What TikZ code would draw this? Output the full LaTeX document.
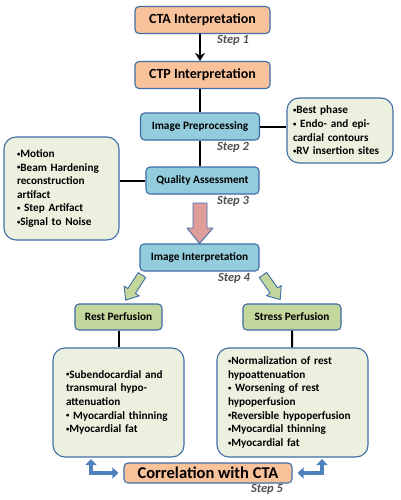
\documentclass[tikz,border=0pt]{standalone}
\usepackage{fontspec}
\setmainfont{Carlito}
\usetikzlibrary{arrows.meta,calc}

\definecolor{boxline}{HTML}{3F6DA8}
\definecolor{ctafill}{HTML}{FAC29A}
\definecolor{stepfill}{HTML}{93CDDD}
\definecolor{perffill}{HTML}{C3D69B}
\definecolor{notefill}{HTML}{EBF1DE}
\definecolor{pinkfill}{HTML}{E09C9A}
\definecolor{arrowblue}{HTML}{4F81BD}
\definecolor{steptext}{HTML}{505050}

\newcommand{\dotmark}{\raisebox{0.25ex}{\scalebox{0.6}{•}}}

\begin{document}
\begin{tikzpicture}[
    x=1pt, y=-1pt,
    % --- Styles ---
    base box/.style={draw=boxline, line width=1.1pt, anchor=center, inner sep=0pt},
    % Orange boxes for the CTA / CTP steps
    cta box/.style={base box, fill=ctafill, rounded corners=4pt, minimum width=135pt,
        minimum height=27pt, font=\bfseries\fontsize{14}{16}\selectfont},
    % Blue boxes for the processing steps
    stage box/.style={base box, fill=stepfill, rounded corners=4pt, minimum height=27pt,
        font=\bfseries\fontsize{11.3}{13}\selectfont},
    perf box/.style={base box, fill=perffill, rounded corners=4pt, minimum height=26pt,
        font=\bfseries\fontsize{11.3}{13}\selectfont},
    % Pale boxes with the bullet lists
    note box/.style={base box, fill=notefill, rounded corners=12pt, align=left,
        font=\bfseries\fontsize{11.2}{13.6}\selectfont},
    step label/.style={font=\bfseries\itshape\fontsize{12.5}{14}\selectfont, text=steptext},
    link/.style={draw=black, line width=2pt},
    block arrow/.style={draw=boxline, line width=0.9pt, line join=round},
    corr arrow/.style={draw=arrowblue, line width=3.5pt,
        {Triangle[width=11pt,length=6pt]}-{Triangle[width=11pt,length=6pt]}}
]
\useasboundingbox (0,0) rectangle (401,500);

%================ MAIN COLUMN ================
\node[cta box] (cta) at (202.5,20) {CTA Interpretation};
\node[cta box] (ctp) at (202.5,75) {CTP Interpretation};
\node[stage box, minimum width=119pt] (prep) at (200,126.5) {Image Preprocessing};
\node[stage box, minimum width=113pt] (qa) at (202.5,180.5) {Quality Assessment};
\node[stage box, minimum width=119pt] (interp) at (199.5,257.5) {Image Interpretation};

%================ SIDE NOTES ================
\node[note box, text width=94pt, inner xsep=6pt, minimum height=65pt] (prepnote) at (340,130.5)
    {\dotmark Best phase\\ \dotmark\ Endo- and epi-\\ cardial contours\\ \dotmark RV insertion sites};
\node[note box, text width=89pt, inner xsep=13pt, minimum height=103pt] (qanote) at (61.5,188.5)
    {\dotmark Motion\\ \dotmark Beam Hardening\\ reconstruction\\ artifact\\ \dotmark\ Step Artifact\\ \dotmark Signal to Noise};

%================ PERFUSION ================
\node[perf box, minimum width=87pt] (rest) at (118.5,317) {Rest Perfusion};
\node[perf box, minimum width=98pt] (stress) at (292,317) {Stress Perfusion};
\node[note box, text width=105pt, inner xsep=13pt, minimum height=109pt] (restnote) at (118.5,402.5)
    {\dotmark Subendocardial and\\ transmural hypo-\\ attenuation\\ \dotmark\ Myocardial thinning\\ \dotmark Myocardial fat};
\node[note box, text width=129pt, inner xsep=11pt, minimum height=109pt] (stressnote) at (292.5,402.5)
    {\dotmark Normalization of rest\\ hypoattenuation\\ \dotmark\ Worsening of rest\\ hypoperfusion\\ \dotmark Reversible hypoperfusion\\ \dotmark Myocardial thinning\\ \dotmark Myocardial fat};

\node[cta box, minimum width=168pt, minimum height=20pt, font=\bfseries\fontsize{16.5}{18}\selectfont] (corr) at (208,473) {Correlation with CTA};

% Step labels
\foreach \sx/\sy/\sn in {233/40/1, 233/147/2, 233/201/3, 234/278/4, 267/489/5}
    \node[step label] (step\sn) at (\sx,\sy) {Step \sn};

%================ CONNECTORS ================
\draw[link, -{Stealth[length=8pt,width=10pt]}] (cta.south -| prep) -- (ctp.north -| prep);
\draw[link] (ctp.south -| prep) -- (prep);
\draw[link] (prep) -- (qa.north -| prep);
\draw[link] (prep.east) -- (prep.east -| prepnote.west);
\draw[link] (qanote.east |- qa) -- (qa);
\draw[link] (rest) -- (restnote);
\draw[link] (stress) -- (stressnote);

% Big pink arrow between quality check and interpretation
\draw[block arrow, fill=pinkfill] (193,203) -- (207,203) -- (207,228) -- (213,228)
    -- (interp.north) -- (187,228) -- (193,228) -- cycle;

% Green arrows to rest / stress
\foreach \tx/\ty/\ang in {142/275/237, 263/275/-55} {
    \begin{scope}[shift={(\tx,\ty)}, rotate=\ang]
        \draw[block arrow, fill=perffill] (0,-4.5) -- (19,-4.5) -- (19,-9) -- (30,0)
            -- (19,9) -- (19,4.5) -- (0,4.5) -- cycle;
    \end{scope}
}

% Bent arrows back to the perfusion boxes
\coordinate (restfoot) at (91,459);
\coordinate (stressfoot) at (322,459);
\draw[corr arrow] (restfoot) |- ([xshift=-5pt]corr.west);
\draw[corr arrow] ([xshift=5pt]corr.east) -| (stressfoot);

\end{tikzpicture}
\end{document}
